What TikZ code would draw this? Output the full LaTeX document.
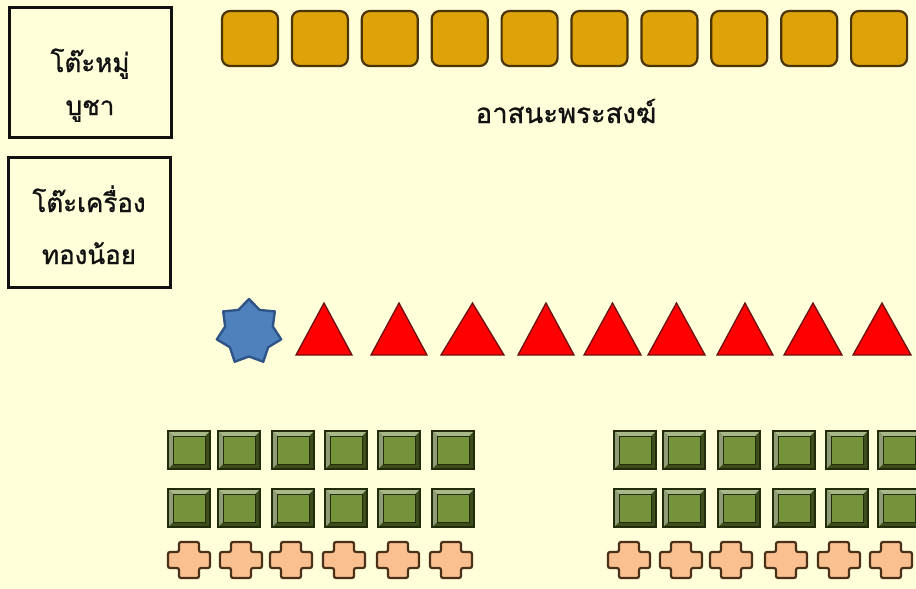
\documentclass[tikz,border=0pt]{standalone}
\usepackage{fontspec}
\newfontfamily\thaifont[Script=Thai,FakeBold=1.0]{Loma}
\usetikzlibrary{shapes.geometric}
\definecolor{bg}{HTML}{FFFFDA}
\definecolor{gold}{HTML}{DDA308}
\definecolor{golddark}{HTML}{4A3408}
\definecolor{starblue}{HTML}{4F81BD}
\definecolor{stardark}{HTML}{2F5486}
\definecolor{trired}{HTML}{FF0000}
\definecolor{tridark}{HTML}{6E1010}
\definecolor{gfill}{HTML}{74933A}
\definecolor{glight}{HTML}{A8B888}
\definecolor{gshade}{HTML}{3E4E1A}
\definecolor{gline}{HTML}{222C0C}
\definecolor{peach}{HTML}{FAC090}
\definecolor{peachdark}{HTML}{4A3018}
\definecolor{ink}{HTML}{111111}
\tikzset{
  tablebox/.style={draw=ink, line width=3pt, minimum width=162, minimum height=130, inner sep=0pt},
  thaitext/.style={font=\thaifont\fontsize{26}{30}\selectfont, text=ink, anchor=base, inner sep=0pt},
  titletext/.style={font=\thaifont\fontsize{27.5}{30}\selectfont, text=ink, anchor=base, inner sep=0pt},
  seat/.style={draw=golddark, fill=gold, line width=2.2pt, rounded corners=8pt, minimum width=56, minimum height=55, inner sep=0pt},
  monkstar/.style={star, star points=7, star point ratio=1.35, minimum size=66, fill=starblue, draw=stardark, line width=2.4pt, inner sep=0pt, line join=round},
  tri/.style={fill=trired, draw=tridark, line width=1.3pt, line join=miter},
  bevelbox/.pic={
    \fill[gshade] (-21,-19) rectangle (21,19);
    \fill[glight] (-21,-19) -- (21,-19) -- (16,-14) -- (-16,-14) -- cycle;
    \fill[glight!85!black] (-21,-19) -- (-16,-14) -- (-16,14) -- (-21,19) -- cycle;
    \fill[gfill] (-16,-14) rectangle (16,14);
    \draw[gline, line width=0.9pt] (-16,-14) rectangle (16,14);
    \draw[gline, line width=2pt] (-21,-19) rectangle (21,19);
  },
  cushion/.pic={
    \draw[fill=peach, draw=peachdark, line width=2.2pt, rounded corners=2pt]
      (-10,-18) -- (10,-18) -- (10,-8) -- (21,-8) -- (21,8) -- (10,8) -- (10,18)
      -- (-10,18) -- (-10,8) -- (-21,8) -- (-21,-8) -- (-10,-8) -- cycle;
  }
}
\begin{document}
\begin{tikzpicture}[x=1pt,y=-1pt]
\useasboundingbox (0,0) rectangle (916,589);
\fill[bg] (0,0) rectangle (916,589);
% left tables
\node[tablebox] (puja) at (90,72) {};
\node[thaitext] (pujaA) at (90,72) {โต๊ะหมู่};
\node[thaitext] (pujaB) at (90,115) {บูชา};
\node[tablebox] (thong) at (89,222) {};
\node[thaitext] (thongA) at (89,212) {โต๊ะเครื่อง};
\node[thaitext] (thongB) at (89,264) {ทองน้อย};
% monk seats
\foreach \i in {0,...,9} {
  \node[seat] (seat\i) at ({250+69.9*\i},38.5) {};
}
\node[titletext] (seatlabel) at (566,123) {อาสนะพระสงฆ์};
% star and triangles
\node[monkstar] (star) at (249,332) {};
\foreach \l/\r [count=\k] in {296/352,371/427,441/504,518/574,584/641,648/705,717/773,784/842,853/911} {
  \draw[tri] (\l,355) -- ({(\l+\r)/2},303) -- (\r,355) -- cycle;
}
% green seats
\foreach \x in {189,239,293,346,399,453,635,684,739,794,847,899} {
  \pic at (\x,450) {bevelbox};
  \pic at (\x,508) {bevelbox};
}
\foreach \x in {189,241,291,344,398,451,629,681,731,786,839,891} {
  \pic at (\x,560) {cushion};
}
\end{tikzpicture}
\end{document}
